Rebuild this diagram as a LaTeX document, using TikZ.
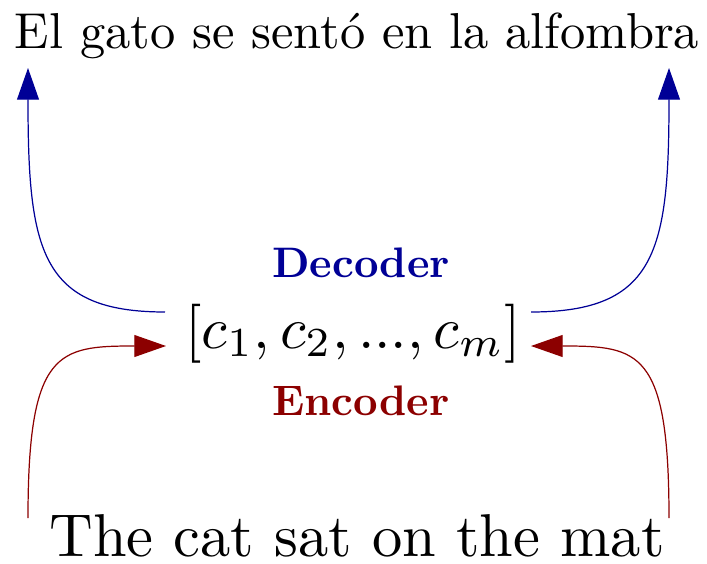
\documentclass[tikz,border=0pt]{standalone}
\usepackage{graphicx}
\usetikzlibrary{arrows.meta}
\definecolor{decblue}{RGB}{0,0,150}
\definecolor{encred}{RGB}{140,0,0}
\tikzset{
  sent/.style={inner sep=0pt, anchor=base},
  lbl/.style={inner sep=0pt, anchor=base, font=\bfseries},
  decarrow/.style={draw=decblue, line width=0.5pt, -{Triangle[length=13pt,width=9pt]}, color=decblue},
  encarrow/.style={draw=encred, line width=0.5pt, -{Triangle[length=13pt,width=9pt]}, color=encred}
}
\begin{document}
\begin{tikzpicture}[x=0.41pt, y=-0.41pt]
\useasboundingbox (0,0) rectangle (707,563);
\node[sent] (top) at (357,48) {\scalebox{2.07}{El gato se sentó en la alfombra}};
\node[sent] (bottom) at (357,556) {\scalebox{2.48}{The cat sat on the mat}};
\node[sent] (mid) at (353,348) {\scalebox{2.42}{$[c_1, c_2, ..., c_m]$}};
\node[lbl, text=decblue] (dec) at (361,277) {\scalebox{1.75}{Decoder}};
\node[lbl, text=encred] (enc) at (361,415) {\scalebox{1.75}{Encoder}};
\coordinate (dl) at (165,312);
\coordinate (dr) at (531,312);
\coordinate (tl) at (28,68);
\coordinate (tr) at (669,68);
\coordinate (bl) at (28,518);
\coordinate (br) at (669,518);
\coordinate (ml) at (166,346);
\coordinate (mr) at (531,346);
\draw[decarrow] (dl) .. controls (40,312) and (28,250) .. (tl);
\draw[decarrow] (dr) .. controls (657,312) and (669,250) .. (tr);
\draw[encarrow] (bl) .. controls (28,350) and (58,346) .. (ml);
\draw[encarrow] (br) .. controls (669,350) and (639,346) .. (mr);
\end{tikzpicture}
\end{document}
